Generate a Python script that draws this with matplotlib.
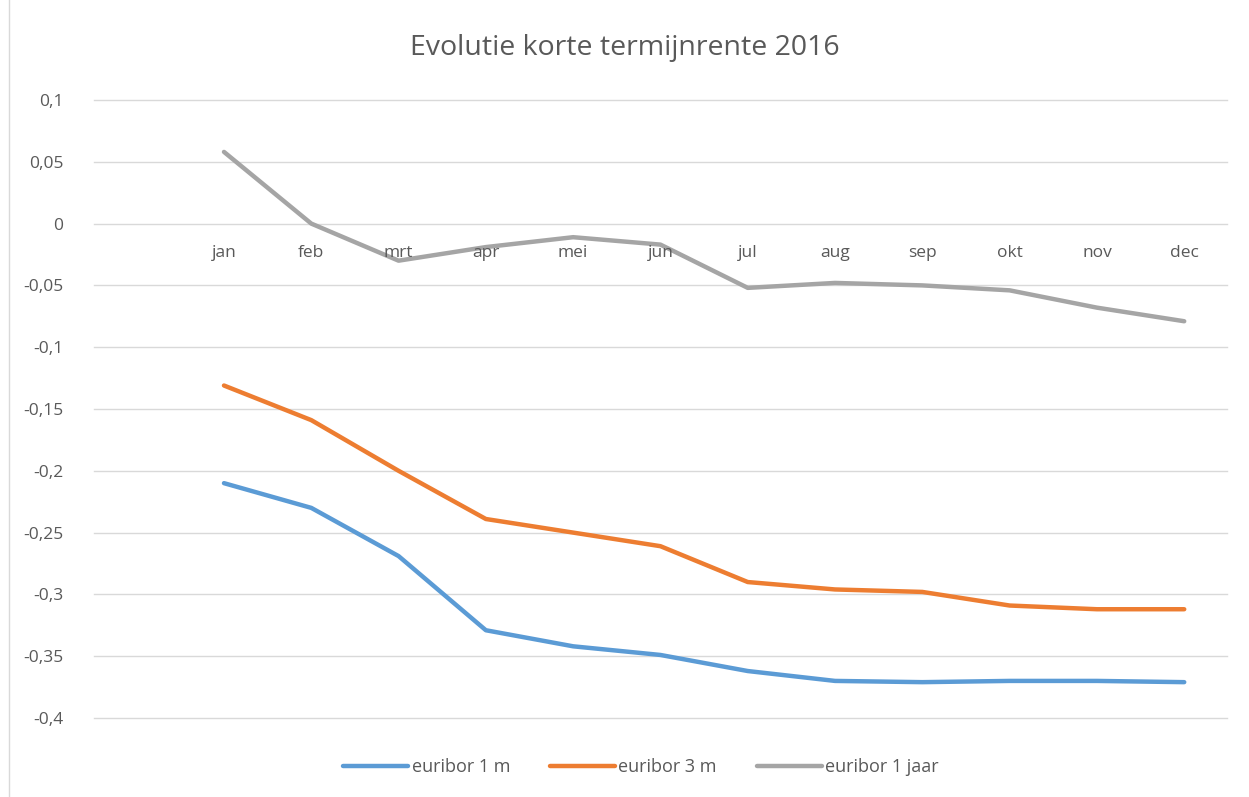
import matplotlib
matplotlib.use("Agg")
import matplotlib.pyplot as plt
from matplotlib.patches import Rectangle

months = ["jan", "feb", "mrt", "apr", "mei", "jun", "jul", "aug", "sep", "okt", "nov", "dec"]
euribor_1m = [-0.210, -0.230, -0.269, -0.329, -0.342, -0.349, -0.362, -0.370, -0.371, -0.370, -0.370, -0.371]
euribor_3m = [-0.131, -0.159, -0.200, -0.239, -0.250, -0.261, -0.290, -0.296, -0.298, -0.309, -0.312, -0.312]
euribor_1j = [0.058, 0.000, -0.030, -0.019, -0.011, -0.017, -0.052, -0.048, -0.050, -0.054, -0.068, -0.079]
yticks = [0.1, 0.05, 0, -0.05, -0.1, -0.15, -0.2, -0.25, -0.3, -0.35, -0.4]

plt.rcParams['font.family'] = ['Open Sans', 'DejaVu Sans']
txt = "#595959"

fig = plt.figure(figsize=(12.49, 7.97), dpi=100)
ax = fig.add_axes([94/1249, 1-718/797, (1227-94)/1249, (718-100)/797])

x = list(range(len(months)))
ax.plot(x, euribor_1m, color="#5b9bd5", lw=3.2, solid_capstyle="round", label="euribor 1 m")
ax.plot(x, euribor_3m, color="#ed7d31", lw=3.2, solid_capstyle="round", label="euribor 3 m")
ax.plot(x, euribor_1j, color="#a5a5a5", lw=3.2, solid_capstyle="round", label="euribor 1 jaar")

ax.set_ylim(-0.4, 0.1)
ax.set_xlim(-1.489, 11.49)
ax.set_yticks(yticks)
ax.set_yticklabels([("%g" % v).replace(".", ",") for v in yticks], color=txt, fontsize=12.5)
ax.tick_params(axis="y", length=0, pad=22)
ax.set_xticks([])
ax.grid(axis="y", color="#d9d9d9", lw=1)
for gl in ax.get_ygridlines():
    gl.set_clip_on(False)
ax.set_axisbelow(True)
for s in ax.spines.values():
    s.set_visible(False)

for i, m in enumerate(months):
    ax.text(i, -0.0235, m, ha="center", va="center", color=txt, fontsize=12.5)

fig.text(0.5, 1-48/797, "Evolutie korte termijnrente 2016", ha="center", va="center",
         color=txt, fontsize=20.5)

leg = fig.legend(loc="center", bbox_to_anchor=(641/1249, 1-767/797), ncol=3, frameon=False,
                 fontsize=13, handlelength=3.6, handletextpad=0.2, columnspacing=2.2)
for t in leg.get_texts():
    t.set_color(txt)

fig.patches.append(Rectangle((9/1249, -0.01), 1.1, 1.1, transform=fig.transFigure,
                             fill=False, edgecolor="#d9d9d9", lw=1))

fig.savefig("out.png", dpi=100)
